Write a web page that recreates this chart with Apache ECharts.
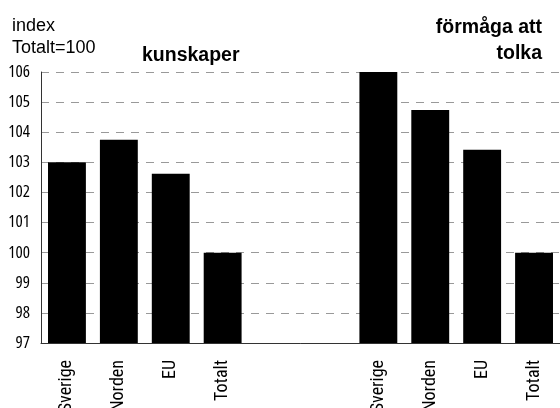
<!DOCTYPE html>
<html><head><meta charset="utf-8">
<script src="https://cdn.jsdelivr.net/npm/echarts@6/dist/echarts.min.js"></script>
<style>html,body{margin:0;padding:0;background:#fff}#c{width:560px;height:408px}</style>
</head><body><div id="c"></div>
<script>
const categories = ['Sverige','Norden','EU','Totalt','','','Sverige','Norden','EU','Totalt'];
const values = [103.0, 103.75, 102.62, 100, null, null, 106, 104.74, 103.42, 100];
const yTicks = {min: 97, max: 106, interval: 1};

const chart = echarts.init(document.getElementById('c'));
chart.setOption({
  animation: false,
  graphic: [
    {type:'text', left: 12, top: 17, style:{text:'index', font:'18px "Liberation Sans"', fill:'#000'}},
    {type:'text', left: 12, top: 39, style:{text:'Totalt=100', font:'18px "Liberation Sans"', fill:'#000'}},
    {type:'text', left: 142, top: 46, style:{text:'kunskaper', font:'bold 19.5px "Liberation Sans"', fill:'#000'}},
    {type:'text', right: 18, top: 18, style:{text:'förmåga att', font:'bold 19.5px "Liberation Sans"', fill:'#000', align:'right'}},
    {type:'text', right: 18, top: 44, style:{text:'tolka', font:'bold 19.5px "Liberation Sans"', fill:'#000', align:'right'}}
  ],
  grid: {left: 41, right: 0, top: 72, bottom: 65, containLabel: false, outerBoundsMode: 'none'},
  xAxis: {
    type: 'category', data: categories,
    axisLine: {lineStyle: {color: '#333', width: 1}},
    axisTick: {show: false},
    axisLabel: {rotate: 90, margin: 17, interval: 0, color: '#000', fontFamily: '"Roboto Condensed", Roboto', fontSize: 18}
  },
  yAxis: {
    type: 'value', min: yTicks.min, max: yTicks.max, interval: yTicks.interval,
    axisLine: {show: true, lineStyle: {color: '#333', width: 1}},
    axisTick: {show: false},
    axisLabel: {color: '#000', fontStyle: 'normal', fontWeight: 'condensed', fontFamily: '"Open Sans"', fontSize: 17, margin: 11},
    splitLine: {show: true, lineStyle: {color: '#999', type: [8, 7], width: 1}}
  },
  series: [{
    type: 'bar', data: values, barCategoryGap: '27%',
    itemStyle: {color: '#000'}
  }]
});
</script></body></html>
